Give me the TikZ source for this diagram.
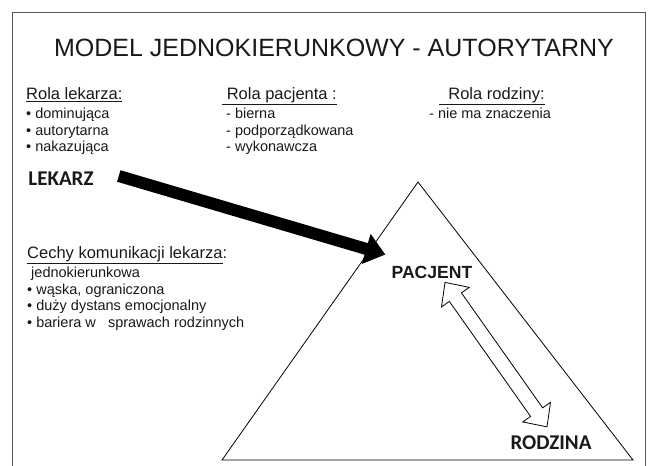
\documentclass[tikz,border=0pt]{standalone}
\usepackage{fontspec}
\setmainfont{Liberation Sans}
\newfontfamily\carlito{Carlito}
\usetikzlibrary{arrows.meta,calc}

\newcommand{\rolehead}[1]{{\fontsize{16.5}{16.5}\selectfont\underline{#1}}}

\begin{document}
\begin{tikzpicture}[x=1pt, y=1pt, every node/.style={inner sep=0pt, text=black!90},
    rolelist/.style={anchor=north west, align=left, font=\fontsize{14.5}{16.5}\selectfont},
    person/.style={font=\carlito\bfseries\fontsize{21}{21}\selectfont},
    bigarrow/.style={line width=12pt, -{Triangle[length=20pt, width=30pt]}},
    hollowarrow/.style={draw=black, fill=white, line width=0.8pt, line join=miter}]

    \useasboundingbox (0,0) rectangle (649,466);
    % frame of the slide, open at the bottom
    \draw[black!65, line width=0.8pt] (12,0) -- (12,454) -- (645,454) -- (645,0);

    \node (title) at (334,418) {\fontsize{25}{25}\selectfont MODEL JEDNOKIERUNKOWY - AUTORYTARNY};

    % roles
    \node[rolelist] (lekarzrole) at (26,379)
        {\rolehead{Rola lekarza:}\\[3pt] • dominująca\\ • autorytarna\\ • nakazująca};
    \node[rolelist] (pacjentrole) at (222,379)
        {\rolehead{\ Rola pacjenta :}\\[3pt] \ - bierna\\ \ - podporządkowana\\ \ - wykonawcza};
    \node[rolelist] (rodzinarole) at (429,379)
        {\hspace{10pt}\rolehead{\ \ Rola rodziny:}\\[3pt] - nie ma znaczenia};

    \node[rolelist] (cechy) at (27,220)
        {\rolehead{Cechy komunikacji lekarza}{\fontsize{16.5}{16.5}\selectfont:}\\[3pt]
         \ jednokierunkowa\\ • wąska, ograniczona\\ • duży dystans emocjonalny\\
         • bariera w \ \ sprawach rodzinnych};

    % triangle
    \coordinate (apex) at (418,284);
    \coordinate (baseL) at (222,6);
    \coordinate (baseR) at (633,6);
    \draw[line width=0.8pt] (apex) -- (baseL) -- (baseR) -- cycle;

    \node[person] (lekarz) at (61,287) {LEKARZ};
    \node[font=\bfseries\fontsize{17.6}{17.6}\selectfont] (pacjent) at (432,194) {PACJENT};
    \node[person] (rodzina) at (551,23) {RODZINA};

    % lekarz -> pacjent
    \draw[bigarrow] ($(lekarz.east)+(25,3)$) -- ($(pacjent.north west)+(-6,11)$);

    % pacjent <-> rodzina
    \coordinate (pactip) at ($(pacjent.south)+(13,-4)$);
    \coordinate (rodtip) at ($(rodzina.north)+(-4,9)$);
    \path let \p1=($(rodtip)-(pactip)$) in
        \pgfextra{\pgfmathsetmacro\arrang{atan2(\y1,\x1)}\global\let\arrang\arrang
                  \pgfmathsetmacro\arrlen{veclen(\x1,\y1)}\global\let\arrlen\arrlen};
    \draw[hollowarrow, shift={(pactip)}, rotate=\arrang]
        (0,0) -- (18,17) -- (18,7.4) -- ({\arrlen-18},7.4) -- ({\arrlen-18},17)
        -- (\arrlen,0) -- ({\arrlen-18},-17) -- ({\arrlen-18},-7.4) -- (18,-7.4)
        -- (18,-17) -- cycle;
\end{tikzpicture}
\end{document}
